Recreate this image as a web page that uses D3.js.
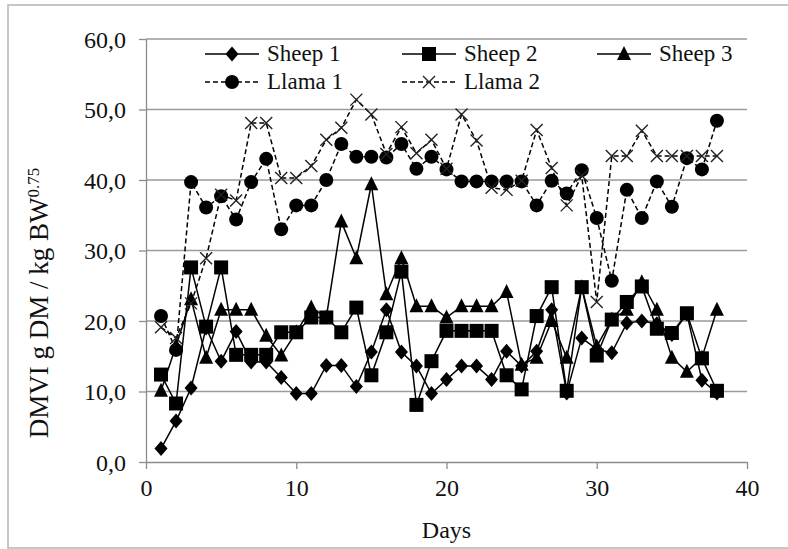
<!DOCTYPE html>
<html lang="en">
<head>
<meta charset="UTF-8">
<title>DMVI per day</title>
<script src="https://d3js.org/d3.v7.min.js"></script>
<style>
  body { margin: 0; background: #fff; }
  text { font-family: "Liberation Serif", "Times New Roman", serif; fill: #111; }
  .grid line { stroke: #9a9a9a; stroke-width: 1.3px; }
  .axis path, .axis line { stroke: #8c8c8c; stroke-width: 1.3px; }
</style>
</head>
<body>
<svg width="788" height="549"></svg>
<script>
// days 1..38
const days = d3.range(1, 39);

const sheep1 = [1.9, 5.8, 10.5, 19.0, 14.3, 18.5, 14.2, 14.2, 12.0, 9.7, 9.7, 13.7, 13.7, 10.7, 15.6, 21.6, 15.6, 13.6, 9.7, 11.7,
  13.6, 13.6, 11.7, 15.7, 13.6, 15.7, 21.6, 9.8, 17.6, 16.0, 15.5, 19.7, 20.0, 19.6, 18.1, 21.0, 11.6, 9.8];
const sheep2 = [12.4, 8.3, 27.6, 19.2, 27.6, 15.2, 15.2, 15.2, 18.4, 18.4, 20.5, 20.5, 18.4, 21.9, 12.3, 18.4, 27.0, 8.1, 14.3, 18.6,
  18.6, 18.6, 18.6, 12.3, 10.3, 20.7, 24.8, 10.1, 24.8, 15.1, 20.2, 22.7, 24.9, 18.9, 18.3, 21.1, 14.7, 10.1];
const sheep3 = [10.1, 16.5, 23.1, 14.8, 21.6, 21.6, 21.6, 17.9, 15.1, 18.4, 21.9, 20.5, 34.1, 28.9, 39.4, 23.8, 28.9, 22.1, 22.1, 20.5,
  22.1, 22.1, 22.1, 24.1, 13.8, 14.8, 20.0, 14.8, 24.8, 16.4, 20.2, 21.6, 25.5, 21.6, 14.8, 12.8, 14.8, 21.6];
const llama1 = [20.7, 15.9, 39.7, 36.1, 37.7, 34.4, 39.7, 43.0, 33.0, 36.4, 36.4, 40.0, 45.1, 43.3, 43.3, 43.2, 45.1, 41.6, 43.3, 41.5,
  39.8, 39.8, 39.8, 39.8, 39.8, 36.4, 39.9, 38.1, 41.4, 34.6, 25.7, 38.6, 34.6, 39.8, 36.2, 43.1, 41.5, 48.4];
const llama2 = [19.1, 17.6, 22.5, 28.9, 37.9, 37.1, 48.1, 48.1, 40.3, 40.3, 42.0, 45.7, 47.4, 51.4, 49.3, 43.7, 47.5, 43.8, 45.7, 41.6,
  49.3, 45.6, 38.9, 38.6, 39.9, 47.1, 41.7, 36.4, 40.6, 22.7, 43.4, 43.4, 47.0, 43.4, 43.4, 43.4, 43.4, 43.4];

const xTicks = [0, 10, 20, 30, 40];
const yTicks = [0, 10, 20, 30, 40, 50, 60];

const series = [
  { name: "Sheep 1", values: sheep1, marker: "diamond", dashed: false },
  { name: "Sheep 2", values: sheep2, marker: "square", dashed: false },
  { name: "Sheep 3", values: sheep3, marker: "triangle", dashed: false },
  { name: "Llama 1", values: llama1, marker: "circle", dashed: true },
  { name: "Llama 2", values: llama2, marker: "cross", dashed: true }
];

const svg = d3.select("svg");
const x = d3.scaleLinear().domain([0, 40]).range([146, 747]);
const y = d3.scaleLinear().domain([0, 60]).range([462, 39]);

// outer frame
svg.append("rect")
  .attr("x", 8).attr("y", 5).attr("width", 790).attr("height", 543)
  .attr("fill", "none").attr("stroke", "#b4b4b4").attr("stroke-width", 1.5);

// horizontal gridlines
svg.append("g").attr("class", "grid")
  .selectAll("line")
  .data(yTicks.filter(d => d > 0))
  .join("line")
  .attr("x1", x(0)).attr("x2", x(40))
  .attr("y1", d => y(d)).attr("y2", d => y(d));

const fmt = d => d.toFixed(1).replace(".", ",");

const yAxis = svg.append("g").attr("class", "axis")
  .attr("transform", `translate(${x(0)},0)`)
  .call(d3.axisLeft(y).tickValues(yTicks).tickFormat(fmt).tickSize(7).tickSizeOuter(0));
yAxis.selectAll("text").style("font-size", "24px").attr("x", -20).attr("dy", "0.34em");

const xAxis = svg.append("g").attr("class", "axis")
  .attr("transform", `translate(0,${y(0)})`)
  .call(d3.axisBottom(x).tickValues(xTicks).tickFormat(d3.format("d")).tickSize(7).tickSizeOuter(0));
xAxis.selectAll("text").style("font-size", "24px").attr("y", 17);

svg.selectAll(".axis .domain").attr("stroke", "#8c8c8c");

// axis titles
svg.append("text")
  .attr("x", x(20)).attr("y", 538)
  .attr("text-anchor", "middle")
  .style("font-size", "24px")
  .text("Days");

const yTitle = svg.append("text")
  .attr("transform", "translate(48,303) rotate(-90)")
  .attr("text-anchor", "middle")
  .style("font-size", "27px");
yTitle.append("tspan").text("DMVI g DM / kg BW");
yTitle.append("tspan").attr("dy", "-0.55em").style("font-size", "17px").text("0.75");

// markers
function drawMarker(g, type) {
  if (type === "diamond") {
    g.append("path").attr("d", "M0,-7.5L6.5,0L0,7.5L-6.5,0Z").attr("fill", "#000");
  } else if (type === "square") {
    g.append("rect").attr("x", -7).attr("y", -7).attr("width", 14).attr("height", 14).attr("fill", "#000");
  } else if (type === "triangle") {
    g.append("path").attr("d", "M0,-8L7,6L-7,6Z").attr("fill", "#000");
  } else if (type === "circle") {
    g.append("circle").attr("r", 7).attr("fill", "#000");
  } else if (type === "cross") {
    g.append("path").attr("d", "M-6,-6L6,6M-6,6L6,-6")
      .attr("stroke", "#222").attr("stroke-width", 1.4).attr("fill", "none");
  }
}

const line = d3.line().x(d => x(d.day)).y(d => y(d.v));

series.forEach(s => {
  const pts = days.map((d, i) => ({ day: d, v: s.values[i] }));
  svg.append("path")
    .datum(pts)
    .attr("d", line)
    .attr("fill", "none")
    .attr("stroke", "#000")
    .attr("stroke-width", 1.5)
    .attr("stroke-dasharray", s.dashed ? "5,3" : null);
  svg.append("g").selectAll("g")
    .data(pts)
    .join("g")
    .attr("transform", d => `translate(${x(d.day)},${y(d.v)})`)
    .each(function () { drawMarker(d3.select(this), s.marker); });
});

// legend
const legendPos = [
  { x: 205, y: 54 }, { x: 402, y: 54 }, { x: 597, y: 54 },
  { x: 205, y: 82 }, { x: 402, y: 82 }
];
series.forEach((s, i) => {
  const p = legendPos[i];
  const g = svg.append("g").attr("transform", `translate(${p.x},${p.y})`);
  g.append("line").attr("x1", 0).attr("x2", 54).attr("y1", 0).attr("y2", 0)
    .attr("stroke", "#000").attr("stroke-width", 1.5)
    .attr("stroke-dasharray", s.dashed ? "5,3" : null);
  drawMarker(g.append("g").attr("transform", "translate(27,0)"), s.marker);
  g.append("text").attr("x", 62).attr("y", 7).style("font-size", "23px").text(s.name);
});
</script>
</body>
</html>
